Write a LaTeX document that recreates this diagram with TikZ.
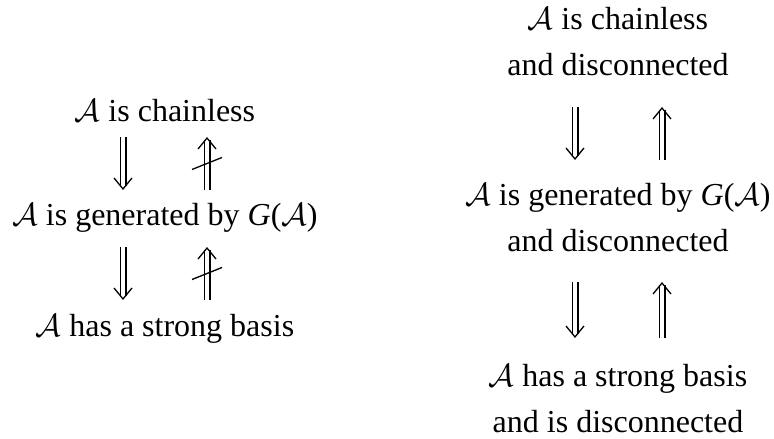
\documentclass[tikz,border=0pt]{standalone}
\usepackage{fix-cm}
\usepackage{fontspec}
\setmainfont{Liberation Serif}
\usetikzlibrary{arrows.meta,calc,decorations.markings}
\begin{document}
\begin{tikzpicture}[x=1bp,y=-1bp,
  txt/.style={font=\fontsize{32bp}{46bp}\selectfont, inner sep=0pt, align=center, anchor=base},
  impl/.style={line width=1.2bp, double, double distance=4.6bp, shorten >=3.5bp,
    decoration={markings, mark=at position 1 with {\arrow[line width=1.3bp]{Straight Barb[length=11bp,width=18bp]}}},
    postaction={decorate}},
  slash/.style={line width=1.3bp}]
\useasboundingbox (0,0) rectangle (774,439);
% left column
\node[txt] (l1) at (165,122) {$\mathcal{A}$ is chainless};
\node[txt] (l2) at (165,226) {$\mathcal{A}$ is generated by \textit{G}($\mathcal{A}$)};
\node[txt] (l3) at (165,337) {$\mathcal{A}$ has a strong basis};
\draw[impl] ($(l1.base)+(-42,15)$) -- ($(l2.base)+(-42,-36)$);
\draw[impl] ($(l2.base)+(42,-36)$) -- coordinate (m1) ($(l1.base)+(42,15)$);
\draw[slash] ($(m1)+(-15,6)$) -- ($(m1)+(15,-6)$);
\draw[impl] ($(l2.base)+(-42,21)$) -- ($(l3.base)+(-42,-37)$);
\draw[impl] ($(l3.base)+(42,-37)$) -- coordinate (m2) ($(l2.base)+(42,21)$);
\draw[slash] ($(m2)+(-15,6)$) -- ($(m2)+(15,-6)$);
% right column
\node[txt] (r1) at (618,76) {$\mathcal{A}$ is chainless\\and disconnected};
\node[txt] (r2) at (618,252) {$\mathcal{A}$ is generated by \textit{G}($\mathcal{A}$)\\and disconnected};
\node[txt] (r3) at (618,432) {$\mathcal{A}$ has a strong basis\\and is disconnected};
\draw[impl] ($(r1.base)+(-43,31)$) -- ($(r2.base)+(-43,-92)$);
\draw[impl] ($(r2.base)+(44,-92)$) -- ($(r1.base)+(44,31)$);
\draw[impl] ($(r2.base)+(-43,30)$) -- ($(r3.base)+(-43,-94)$);
\draw[impl] ($(r3.base)+(44,-94)$) -- ($(r2.base)+(44,30)$);
\end{tikzpicture}
\end{document}
